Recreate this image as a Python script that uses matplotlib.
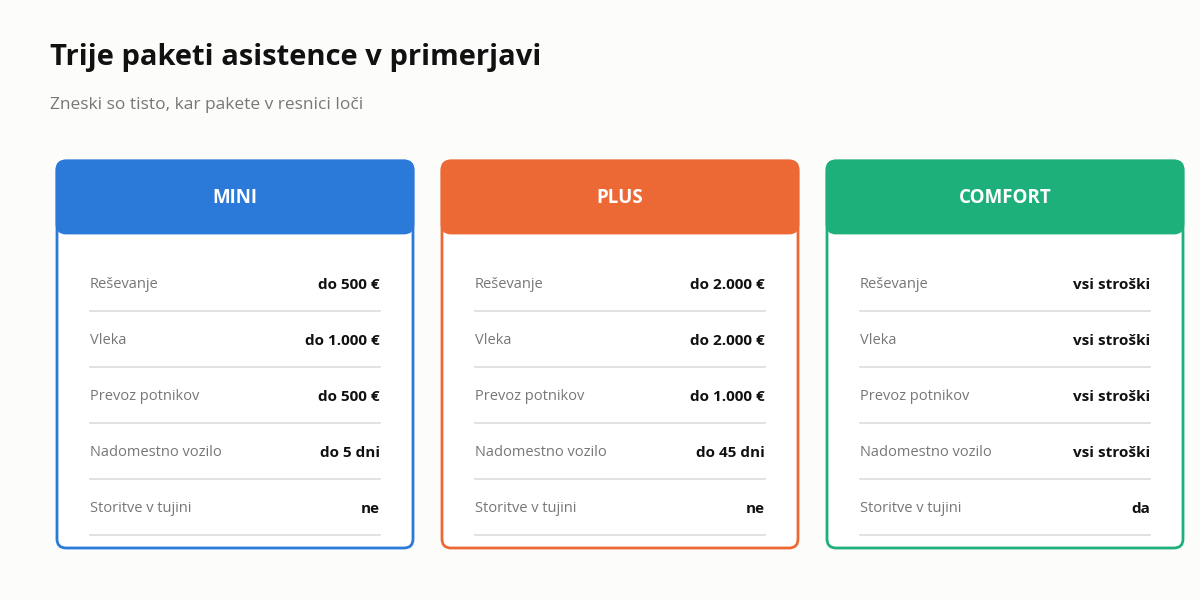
import matplotlib
matplotlib.use("Agg")
import matplotlib.pyplot as plt
from matplotlib.patches import FancyBboxPatch

plt.rcParams['font.family'] = ['Open Sans', 'DejaVu Sans']

title = "Trije paketi asistence v primerjavi"
subtitle = "Zneski so tisto, kar pakete v resnici loči"
packages = ["MINI", "PLUS", "COMFORT"]
colors = ["#2B79D8", "#EC6935", "#1DB07A"]
features = ["Reševanje", "Vleka", "Prevoz potnikov", "Nadomestno vozilo", "Storitve v tujini"]
mini_vals = ["do 500 €", "do 1.000 €", "do 500 €", "do 5 dni", "ne"]
plus_vals = ["do 2.000 €", "do 2.000 €", "do 1.000 €", "do 45 dni", "ne"]
comfort_vals = ["vsi stroški", "vsi stroški", "vsi stroški", "vsi stroški", "da"]
values = [mini_vals, plus_vals, comfort_vals]

fig = plt.figure(figsize=(12, 6), dpi=100)
fig.patch.set_facecolor("#FCFCFA")
ax = fig.add_axes([0, 0, 1, 1])
ax.set_xlim(0, 1200)
ax.set_ylim(600, 0)
ax.axis("off")

ax.text(50, 57, title, fontsize=21, fontweight="bold", color="#111111", va="center")
ax.text(50, 105, subtitle, fontsize=12.5, color="#777777", va="center")

card_w, top, bottom, head_h = 356, 161, 548, 72
for i, (pkg, col, vals) in enumerate(zip(packages, colors, values)):
    x0 = 57 + i * 385
    ax.add_patch(FancyBboxPatch((x0, top), card_w, bottom - top,
                                boxstyle="round,pad=0,rounding_size=9",
                                fc="white", ec=col, lw=2))
    ax.add_patch(FancyBboxPatch((x0, top), card_w, head_h,
                                boxstyle="round,pad=0,rounding_size=9",
                                fc=col, ec=col, lw=2))
    ax.text(x0 + card_w / 2, top + 37, pkg, fontsize=13.5, fontweight="bold",
            color="white", ha="center", va="center")
    for j, (f, v) in enumerate(zip(features, vals)):
        y = 285 + j * 56
        ax.text(x0 + 33, y, f, fontsize=10.5, color="#777777", va="center")
        ax.text(x0 + 323, y, v, fontsize=11, fontweight="bold", color="#111111",
                ha="right", va="center")
        ax.plot([x0 + 33, x0 + 323], [y + 26, y + 26], color="#DDDDDD", lw=1.2)

fig.savefig("out.png", dpi=100, facecolor=fig.get_facecolor())
